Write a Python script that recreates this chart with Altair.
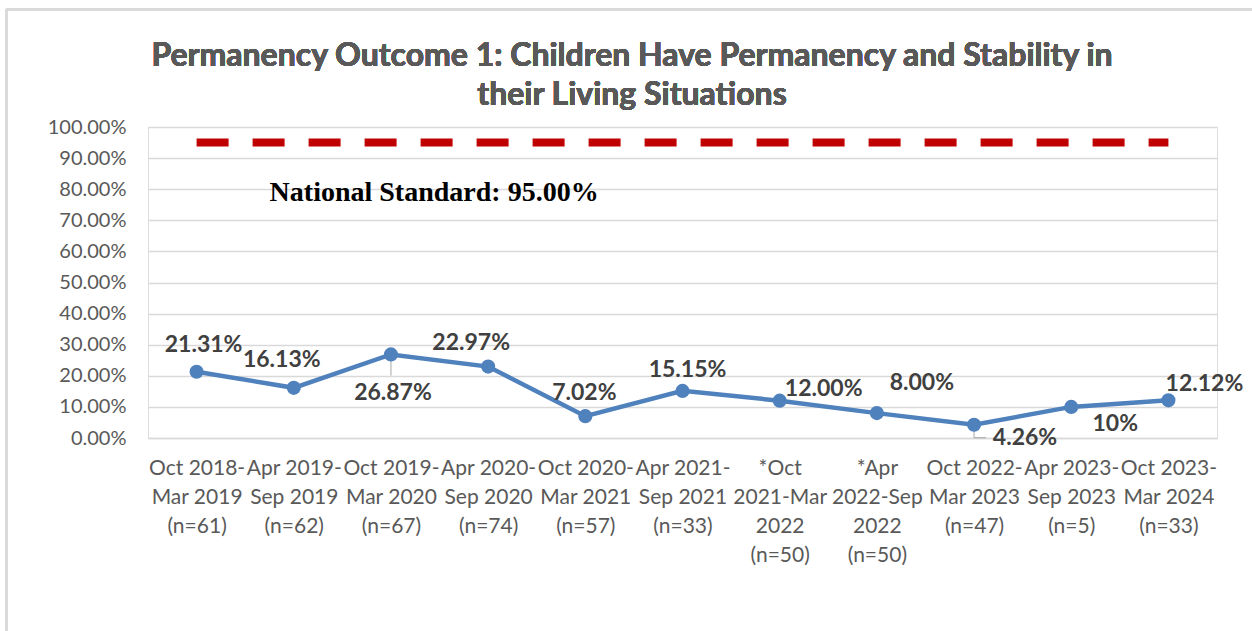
import altair as alt
import pandas as pd

categories = [
    "Oct 2018-\nMar 2019\n(n=61)",
    "Apr 2019-\nSep 2019\n(n=62)",
    "Oct 2019-\nMar 2020\n(n=67)",
    "Apr 2020-\nSep 2020\n(n=74)",
    "Oct 2020-\nMar 2021\n(n=57)",
    "Apr 2021-\nSep 2021\n(n=33)",
    "*Oct\n2021-Mar\n2022\n(n=50)",
    "*Apr\n2022-Sep\n2022\n(n=50)",
    "Oct 2022-\nMar 2023\n(n=47)",
    "Apr 2023-\nSep 2023\n(n=5)",
    "Oct 2023-\nMar 2024\n(n=33)",
]
values = [0.2131, 0.1613, 0.2687, 0.2297, 0.0702, 0.1515, 0.1200, 0.0800, 0.0426, 0.1000, 0.1212]
value_labels = ["21.31%", "16.13%", "26.87%", "22.97%", "7.02%", "15.15%",
                "12.00%", "8.00%", "4.26%", "10%", "12.12%"]
standard_value = 0.95
standard_label = "National Standard: 95.00%"
y_ticks = [0.0, 0.1, 0.2, 0.3, 0.4, 0.5, 0.6, 0.7, 0.8, 0.9, 1.0]
title_lines = ["Permanency Outcome 1: Children Have Permanency and Stability in",
               "their Living Situations"]

df = pd.DataFrame({"period": categories, "rate": values, "label": value_labels})
std_df = pd.DataFrame({"period": categories, "rate": [standard_value] * len(categories)})
ann_df = pd.DataFrame({"period": [categories[0]], "rate": [0.787], "label": [standard_label]})

# label offsets (style, Excel-like label placement)
label_offsets = [(7, -27), (-12, -28), (2, 39), (-17, -24), (-1, -23), (5, -21),
                 (44, -12), (45, -30), (51, 13), (44, 17), (36, -16)]

FONT = "Lato"
GRAY = "#595959"

x_enc = alt.X("period:N", sort=categories,
              scale=alt.Scale(type="point", padding=0.5),
              axis=alt.Axis(title=None, labelAngle=0, ticks=False, domain=True,
                            domainColor="#d9d9d9", domainWidth=1.5,
                            labelExpr="split(datum.value, '\\n')",
                            labelFont=FONT, labelFontSize=21, labelColor=GRAY,
                            labelLineHeight=29, labelPadding=30, labelAlign="center",
                            labelBaseline="middle",
                            labelOverlap=False, labelBound=False, labelFlush=False))
y_enc = alt.Y("rate:Q", scale=alt.Scale(domain=[0, 1], nice=False),
              axis=alt.Axis(title=None, values=y_ticks, format=".2%", ticks=False,
                            domain=False, grid=True, gridColor="#d9d9d9", gridWidth=1.5,
                            labelFont=FONT, labelFontSize=20, labelColor=GRAY,
                            labelPadding=22, labelOverlap=False, labelBound=False,
                            labelFlush=False))

std_line = alt.Chart(std_df).mark_line(color="#c00000", strokeWidth=8,
                                       strokeDash=[32, 24], strokeCap="butt").encode(
    x=x_enc, y=y_enc)

line = alt.Chart(df).mark_line(color="#4f81bd", strokeWidth=4.5).encode(x=x_enc, y=y_enc)
pts = alt.Chart(df).mark_point(filled=True, shape="circle", size=200, opacity=1,
                               color="#4f81bd").encode(x=x_enc, y=y_enc)

# leader lines for labels moved away from their points
lead_a = alt.Chart(df).transform_filter(alt.datum.period == categories[2]).mark_tick(
    orient="vertical", size=18, thickness=1, color="#a6a6a6", yOffset=12, opacity=1).encode(
    x=x_enc, y=y_enc)
lead_b = alt.Chart(df).transform_filter(alt.datum.period == categories[8]).mark_tick(
    orient="vertical", size=10, thickness=1, color="#a6a6a6", yOffset=8, opacity=1).encode(
    x=x_enc, y=y_enc)
lead_c = alt.Chart(df).transform_filter(alt.datum.period == categories[8]).mark_tick(
    orient="horizontal", size=12, thickness=1, color="#a6a6a6", xOffset=6, yOffset=13,
    opacity=1).encode(x=x_enc, y=y_enc)

label_layers = []
for cat, (dx, dy) in zip(categories, label_offsets):
    label_layers.append(
        alt.Chart(df).transform_filter(alt.datum.period == cat).mark_text(
            font=FONT, fontSize=23, fontWeight="bold", color="#404040",
            dx=dx, dy=dy, align="center", baseline="middle").encode(
            x=x_enc, y=y_enc, text="label:N"))

ann = alt.Chart(ann_df).mark_text(font="Liberation Serif", fontSize=28, fontWeight="bold",
                                  color="#000000", align="left", baseline="middle",
                                  dx=73).encode(x=x_enc, y=y_enc, text="label:N")

title1 = alt.Chart(df).mark_text(font=FONT, fontSize=32, fontWeight="bold", color=GRAY,
                                 align="center", baseline="middle").encode(
    x=alt.value(484), y=alt.value(-71), text=alt.value(title_lines[0]))
title2 = alt.Chart(df).mark_text(font=FONT, fontSize=32, fontWeight="bold", color=GRAY,
                                 align="center", baseline="middle").encode(
    x=alt.value(484), y=alt.value(-32), text=alt.value(title_lines[1]))

border_top = alt.Chart(df).mark_rule(color="#d9d9d9", strokeWidth=2).encode(
    x=alt.value(-141.5), x2=alt.value(1120), y=alt.value(-117.5))
border_left = alt.Chart(df).mark_rule(color="#d9d9d9", strokeWidth=2).encode(
    x=alt.value(-141.5), y=alt.value(-117.5), y2=alt.value(520))

chart = alt.layer(std_line, line, lead_a, lead_b, lead_c, pts, *label_layers, ann,
                  title1, title2, border_top, border_left).properties(
    width=1069, height=311,
    autosize=alt.AutoSizeParams(type="none"),
    padding={"left": 148, "top": 127, "right": 35, "bottom": 193},
).configure_view(stroke=None).configure(background="white")

chart.save("out.html", embed_options={"renderer": "svg", "actions": False})
